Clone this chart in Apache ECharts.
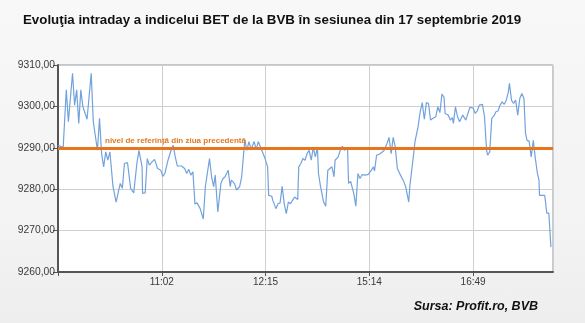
<!DOCTYPE html>
<html>
<head>
<meta charset="utf-8">
<script src="https://cdn.jsdelivr.net/npm/echarts@6/dist/echarts.min.js"></script>
<style>
  html, body { margin: 0; padding: 0; }
  body { width: 585px; height: 323px; background: linear-gradient(#f8f8f8, #f3f3f3 70%, #eeeeee); }
  #chart { width: 585px; height: 323px; }
</style>
</head>
<body>
<div id="chart"></div>
<script>
// BET index, intraday session of 17 Sept 2019 (trade sequence vs. level)
const tradeIndex = [
  0, 5, 8, 10, 14, 16, 18, 20, 22, 24, 28, 32, 34, 38, 40, 42, 44, 46, 48, 50,
  53, 56, 60, 62, 64, 67, 70, 73, 76, 78, 81, 81.5, 84, 86, 88, 90, 93, 96, 99, 101,
  103, 106, 109, 111, 113, 115, 119, 122, 124, 126, 128, 130, 132, 134, 137, 140, 142, 146, 148, 150,
  151.5, 154, 157, 159, 161, 164, 166, 167, 170, 172, 175, 177, 180, 182, 184, 186, 189, 191, 193, 196,
  199, 202, 203, 206, 207, 210, 212, 214, 216, 218, 220, 222, 224, 226, 228, 231, 232, 234, 236, 238,
  240, 242, 244, 246, 248, 250, 251, 253, 256, 258, 260, 262, 264, 266, 267, 270, 272, 274, 276, 279,
  280, 282, 285, 287, 289, 291, 293, 296, 299, 302, 304, 305, 307, 310, 314, 317, 319, 321, 323, 325,
  327, 330, 333, 335, 338, 339, 342, 344, 347, 349, 351, 353, 355, 357, 359, 361, 364, 366, 368, 370,
  372, 373, 376, 378, 380, 381, 383, 385, 387, 390, 393, 395, 397, 400, 402, 404, 406, 409, 411, 413,
  414, 416, 418, 420, 422, 424, 426, 428, 430, 432, 434, 435, 437, 439, 441, 443, 445, 447, 449, 450.5,
  452, 454, 456, 458, 460, 462, 463.5, 464, 469, 470, 471, 473, 475
];
const betLevel = [
  9290.6, 9290.1, 9304.0, 9296.3, 9308.0, 9300.3, 9304.0, 9295.9, 9304.0, 9299.9, 9296.9, 9308.0, 9296.3, 9289.4, 9297.1, 9288.6, 9285.4, 9289.0, 9287.0, 9289.0,
  9280.6, 9276.9, 9281.4, 9280.2, 9286.2, 9286.4, 9280.2, 9279.1, 9286.2, 9289.4, 9285.4, 9279.0, 9279.1, 9287.4, 9285.8, 9286.4, 9287.2, 9285.0, 9284.6, 9283.1,
  9283.8, 9287.0, 9289.4, 9290.6, 9287.8, 9285.6, 9285.6, 9285.0, 9283.8, 9284.8, 9283.4, 9284.2, 9276.4, 9276.7, 9275.3, 9272.8, 9280.6, 9287.4, 9283.0, 9280.6,
  9283.4, 9274.5, 9281.4, 9282.6, 9283.0, 9284.6, 9280.6, 9282.2, 9281.4, 9279.8, 9280.6, 9283.0, 9291.9, 9289.4, 9291.5, 9289.6, 9291.5, 9289.6, 9291.5, 9289.6,
  9287.8, 9285.4, 9278.5, 9278.3, 9277.3, 9275.3, 9276.5, 9276.7, 9280.7, 9276.5, 9274.1, 9276.9, 9276.5, 9277.3, 9278.1, 9277.5, 9285.4, 9286.2, 9287.4, 9287.0,
  9288.6, 9289.4, 9287.0, 9290.1, 9287.8, 9290.1, 9283.8, 9280.6, 9276.9, 9275.9, 9284.6, 9285.0, 9285.4, 9283.0, 9287.0, 9287.8, 9289.4, 9290.4, 9289.4, 9290.1,
  9281.4, 9281.9, 9279.0, 9275.9, 9283.8, 9282.6, 9283.5, 9283.4, 9283.6, 9284.6, 9285.4, 9284.4, 9288.2, 9288.5, 9289.3, 9291.0, 9292.5, 9288.6, 9292.5, 9290.2,
  9285.0, 9283.4, 9282.0, 9280.6, 9276.9, 9280.6, 9287.0, 9291.5, 9295.1, 9298.7, 9300.9, 9296.9, 9300.9, 9300.7, 9296.7, 9297.1, 9297.5, 9299.9, 9298.5, 9303.0,
  9302.2, 9298.3, 9297.9, 9296.7, 9297.3, 9295.9, 9299.9, 9297.5, 9296.3, 9297.9, 9296.7, 9298.3, 9299.8, 9299.6, 9298.3, 9298.9, 9300.3, 9300.5, 9297.5, 9289.4,
  9288.2, 9289.0, 9297.1, 9297.7, 9298.7, 9298.9, 9300.3, 9301.1, 9300.5, 9301.5, 9303.5, 9305.6, 9301.5, 9300.7, 9301.5, 9297.9, 9301.9, 9303.1, 9301.9, 9293.5,
  9291.8, 9291.6, 9287.8, 9291.8, 9287.4, 9283.8, 9282.2, 9278.5, 9278.5, 9276.5, 9274.2, 9274.2, 9266.0
];

// Previous session's reference level
const referenceLevel = 9290;
const referenceLabel = 'nivel de referință din ziua precedentă';

// Time labels shown on the horizontal axis, at their trade positions
const timeTickPositions = [100, 200, 300, 400];
const timeTickLabels = ['11:02', '12:15', '15:14', '16:49'];

const chart = echarts.init(document.getElementById('chart'), null, { renderer: 'canvas' });

chart.setOption({
  backgroundColor: 'transparent',
  animation: false,
  title: {
    text: 'Evoluţia intraday a indicelui BET de la BVB în sesiunea din 17 septembrie 2019',
    left: 18, top: 9,
    textStyle: { fontFamily: 'Liberation Sans, Arial, sans-serif', fontSize: 13.3, fontWeight: 'bold', color: '#111' }
  },
  graphic: [{
    type: 'text', right: 47, top: 300,
    style: {
      text: 'Sursa: Profit.ro, BVB',
      font: 'italic bold 12.5px "Liberation Sans", Arial, sans-serif',
      fill: '#111'
    }
  }],
  grid: {
    left: 58, right: 32, top: 65, bottom: 51,
    show: true, backgroundColor: '#ffffff', borderColor: '#8a97a6', borderWidth: 1
  },
  xAxis: {
    type: 'value', min: 0, max: 477, interval: 100,
    axisLine: { show: true, lineStyle: { color: '#555', width: 2 } },
    axisTick: { show: true, length: 4, lineStyle: { color: '#555' } },
    splitLine: { show: true, lineStyle: { color: '#cfcfcf', width: 1 } },
    axisLabel: {
      color: '#3a3a3a', fontSize: 10, fontFamily: 'Liberation Sans, Arial, sans-serif', margin: 5,
      showMaxLabel: false,
      formatter: v => {
        const i = timeTickPositions.indexOf(v);
        return i >= 0 ? timeTickLabels[i] : '';
      }
    }
  },
  yAxis: {
    type: 'value', min: 9260, max: 9310, interval: 10,
    axisLine: { show: true, lineStyle: { color: '#555', width: 2 } },
    axisTick: { show: true, length: 5, lineStyle: { color: '#555' } },
    splitLine: { show: true, lineStyle: { color: '#cfcfcf', width: 1 } },
    axisLabel: {
      color: '#3a3a3a', fontSize: 10.3, fontFamily: 'Liberation Sans, Arial, sans-serif', margin: 3,
      formatter: v => v.toFixed(2).replace('.', ',')
    }
  },
  series: [{
    type: 'line',
    data: tradeIndex.map((x, i) => [x, betLevel[i]]),
    showSymbol: false,
    lineStyle: { color: '#72a2dc', width: 1.2 },
    markLine: {
      silent: true,
      symbol: 'none',
      lineStyle: { color: '#e8741c', width: 3, type: 'solid' },
      label: {
        show: true,
        position: 'insideStartTop',
        formatter: referenceLabel,
        color: '#e07a22', fontSize: 8, fontWeight: 'bold',
        fontFamily: 'Liberation Sans, Arial, sans-serif',
        padding: [0, 0, 0, 44], distance: 3
      },
      data: [{ yAxis: referenceLevel }]
    }
  }]
});
</script>
</body>
</html>
